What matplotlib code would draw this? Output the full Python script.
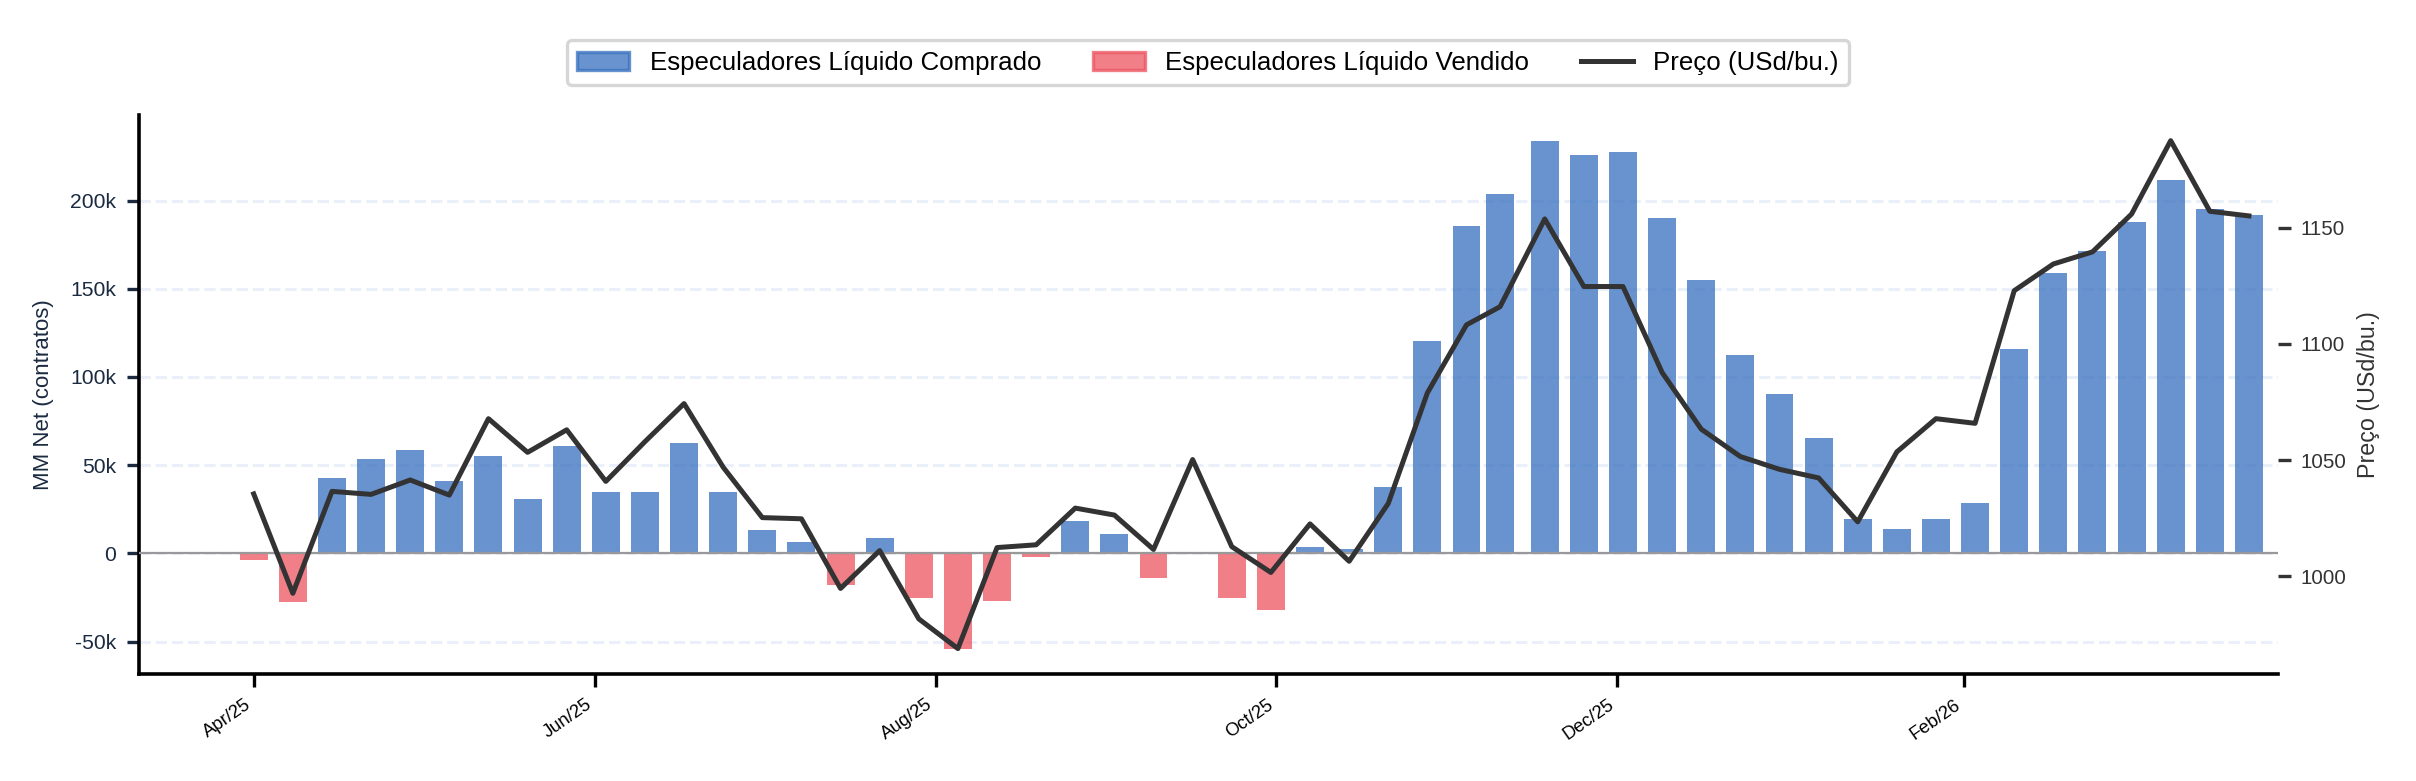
import pandas as pd
import numpy as np
import matplotlib
matplotlib.use("Agg")
import matplotlib.pyplot as plt
import matplotlib.dates as mdates
from matplotlib.patches import Patch
from matplotlib.lines import Line2D
from matplotlib.ticker import FuncFormatter

plt.rcParams["font.family"] = ["Liberation Sans", "DejaVu Sans"]

# weekly COT report dates
dates = pd.to_datetime([
    "2025-04-01", "2025-04-08", "2025-04-15", "2025-04-22", "2025-04-29",
    "2025-05-06", "2025-05-13", "2025-05-20", "2025-05-27",
    "2025-06-03", "2025-06-10", "2025-06-17", "2025-06-24",
    "2025-07-01", "2025-07-08", "2025-07-15", "2025-07-22", "2025-07-29",
    "2025-08-05", "2025-08-12", "2025-08-19", "2025-08-26",
    "2025-09-02", "2025-09-09", "2025-09-16", "2025-09-23", "2025-09-30",
    "2025-10-07", "2025-10-14", "2025-10-21", "2025-10-28",
    "2025-11-04", "2025-11-10", "2025-11-18", "2025-11-25",
    "2025-12-02", "2025-12-09", "2025-12-16", "2025-12-23", "2025-12-30",
    "2026-01-06", "2026-01-13", "2026-01-20", "2026-01-27",
    "2026-02-03", "2026-02-10", "2026-02-17", "2026-02-24",
    "2026-03-03", "2026-03-10", "2026-03-17", "2026-03-24",
])

# managed money net position (contracts)
mm_net = np.array([
    -3700, -27600, 43000, 53300, 58900,
    41300, 55400, 31100, 60700,
    34600, 35000, 62400, 35000,
    13500, 6700, -17800, 8900, -25200,
    -53900, -26700, -2000, 18500,
    11100, -13900, 0, -25200, -32000,
    3700, 2400, 37400, 120200,
    185700, 203700, 233900, 225900,
    227600, 190200, 155000, 112400, 90200,
    65700, 19800, 13900, 19800,
    28700, 115700, 158900, 171300,
    187800, 211700, 195200, 191700,
])

# price (USd/bu.)
price = np.array([
    1035.4, 992.6, 1036.5, 1035.2, 1041.4,
    1034.9, 1067.8, 1053.3, 1063.0,
    1040.8, 1057.9, 1074.3, 1046.9,
    1025.2, 1024.7, 994.7, 1011.0, 981.6,
    968.8, 1012.3, 1013.5, 1029.3,
    1026.3, 1011.5, 1050.2, 1012.7, 1001.6,
    1022.5, 1006.4, 1031.3, 1078.9,
    1108.2, 1116.0, 1153.8, 1124.7,
    1124.7, 1087.7, 1063.3, 1051.5, 1046.0,
    1042.3, 1023.4, 1053.5, 1067.8,
    1065.8, 1122.9, 1134.4, 1139.6,
    1155.9, 1187.5, 1157.1, 1155.1,
])

blue = "#376fbf"
red = "#ec5460"
navy = "#1b2a41"

fig = plt.figure(figsize=(12.08, 3.905), dpi=200)
ax = fig.add_axes([0.0574, 0.137, 0.8855, 0.7154])

colors = [blue if v >= 0 else red for v in mm_net]
ax.bar(dates, mm_net, width=5, color=colors, alpha=0.75, linewidth=0, zorder=2)
ax.axhline(0, color="#999999", linewidth=0.8, zorder=3)

ax.set_ylabel("MM Net (contratos)", fontsize=8, color=navy, labelpad=6)
ax.yaxis.set_major_formatter(FuncFormatter(lambda v, p: "0" if v == 0 else f"{int(v / 1000)}k"))
ax.tick_params(axis="y", labelsize=7.6, labelcolor=navy, length=4.5, width=1.2, color=navy)
ax.grid(axis="y", color="#e9f0fa", linestyle="--", linewidth=1.1, zorder=0)
ax.set_axisbelow(True)

ax.xaxis.set_major_locator(mdates.MonthLocator(bymonth=[2, 4, 6, 8, 10, 12]))
ax.xaxis.set_major_formatter(mdates.DateFormatter("%b/%y"))
ax.tick_params(axis="x", labelsize=6.6, length=4.5, width=1.2)
plt.setp(ax.get_xticklabels(), rotation=35, ha="right")
ax.set_xlim(pd.Timestamp("2025-03-11 10:00"), pd.Timestamp("2026-03-29 05:00"))

for side in ["top", "right"]:
    ax.spines[side].set_visible(False)
for side in ["left", "bottom"]:
    ax.spines[side].set_linewidth(1.3)

ax2 = ax.twinx()
ax2.plot(dates, price, color="#333333", linewidth=1.8, zorder=4)
ax2.set_ylabel("Preço (USd/bu.)", fontsize=8.4, color="#333333")
ax2.tick_params(axis="y", labelsize=7.4, labelcolor="#333333", length=4.5, width=1.2, color="#333333")
ax2.set_yticks([1000, 1050, 1100, 1150])
for side in ["top", "right", "left", "bottom"]:
    ax2.spines[side].set_visible(False)
ax2.set_xlim(ax.get_xlim())

handles = [
    Patch(facecolor=blue, edgecolor=blue, alpha=0.75, linewidth=1.2, label="Especuladores Líquido Comprado"),
    Patch(facecolor=red, edgecolor=red, alpha=0.75, linewidth=1.2, label="Especuladores Líquido Vendido"),
    Line2D([], [], color="#333333", linewidth=1.8, label="Preço (USd/bu.)"),
]
leg = fig.legend(handles=handles, loc="upper center", bbox_to_anchor=(0.5, 0.965), ncol=3,
                 fontsize=9.3, frameon=True, fancybox=True)
leg.get_frame().set_edgecolor("#cccccc")
leg.get_frame().set_linewidth(1.2)

fig.savefig("out.png", dpi=200)
